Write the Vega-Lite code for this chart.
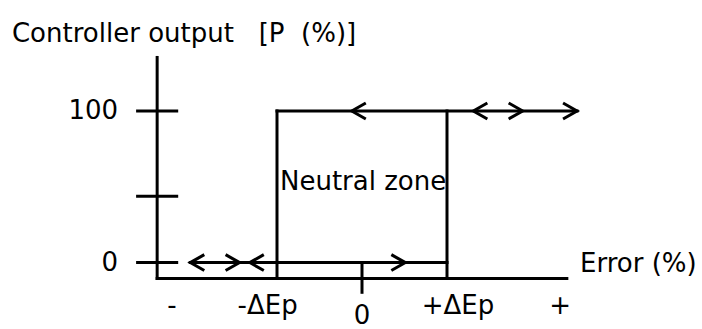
{
  "$schema": "https://vega.github.io/schema/vega-lite/v6.json",
  "width": 702,
  "height": 329,
  "autosize": {"type": "fit", "contains": "padding"},
  "padding": 0,
  "background": "white",
  "config": {"view": {"stroke": null}},
  "datasets": {
    "segments": [
      {"part": "y axis", "x": -2.41, "y": -10.5, "x2": -2.41, "y2": 135.3},
      {"part": "x axis", "x": -2.41, "y": -10.5, "x2": 2.41, "y2": -10.5},
      {"part": "tick 100", "x": -2.64, "y": 100, "x2": -2.18, "y2": 100},
      {"part": "tick mid", "x": -2.64, "y": 43.8, "x2": -2.18, "y2": 43.8},
      {"part": "tick 0", "x": -2.64, "y": 0, "x2": -2.18, "y2": 0},
      {"part": "zone left", "x": -1, "y": -10.5, "x2": -1, "y2": 100},
      {"part": "zone right", "x": 1, "y": -10.5, "x2": 1, "y2": 100},
      {"part": "output 100", "x": -1, "y": 100, "x2": 2.53, "y2": 100},
      {"part": "output 0", "x": -2.02, "y": 0, "x2": 1, "y2": 0},
      {"part": "error 0 tick", "x": 0, "y": 0, "x2": 0, "y2": -19.6}
    ],
    "arrows": [
      {"x": -0.12, "y": 100, "dir": "left"},
      {"x": 1.31, "y": 100, "dir": "left"},
      {"x": 1.89, "y": 100, "dir": "right"},
      {"x": 2.53, "y": 100, "dir": "right"},
      {"x": -2.02, "y": 0, "dir": "left"},
      {"x": -1.44, "y": 0, "dir": "right"},
      {"x": -1.32, "y": 0, "dir": "left"},
      {"x": 0.51, "y": 0, "dir": "right"}
    ],
    "texts": [
      {"role": "free", "text": "Controller output\u00a0\u00a0 [P\u00a0 (%)]", "x": -4.118, "y": 145.8},
      {"role": "free", "text": "Neutral zone", "x": -0.965, "y": 47.7},
      {"role": "free", "text": "Error (%)", "x": 2.565, "y": -6.5},
      {"role": "ylabel", "text": "100", "x": -2.87, "y": 100},
      {"role": "ylabel", "text": "0", "x": -2.87, "y": 0},
      {"role": "xlabel", "text": "-", "x": -2.235, "y": -34},
      {"role": "xlabel", "text": "-ΔEp", "x": -1.11, "y": -34},
      {"role": "xlabel", "text": "0", "x": 0, "y": -40.5},
      {"role": "xlabel", "text": "+ΔEp", "x": 1.13, "y": -34},
      {"role": "xlabel", "text": "+", "x": 2.33, "y": -34}
    ]
  },
  "encoding": {
    "x": {"field": "x", "type": "quantitative", "scale": {"domain": [-4.2588, 4.0], "nice": false, "zero": false}, "axis": null},
    "y": {"field": "y", "type": "quantitative", "scale": {"domain": [-41.83, 173.2], "nice": false, "zero": false}, "axis": null}
  },
  "layer": [
    {
      "data": {"name": "segments"},
      "mark": {"type": "rule", "stroke": "black", "strokeWidth": 3, "strokeCap": "square"},
      "encoding": {
        "x2": {"field": "x2"},
        "y2": {"field": "y2"}
      }
    },
    {
      "data": {"name": "arrows"},
      "mark": {"type": "point", "filled": false, "stroke": "black", "strokeWidth": 3, "size": 784, "opacity": 1},
      "encoding": {
        "shape": {
          "field": "dir",
          "type": "nominal",
          "scale": {"domain": ["left", "right"], "range": ["M1,-0.57L0,0L1,0.57", "M-1,-0.57L0,0L-1,0.57"]},
          "legend": null
        }
      }
    },
    {
      "data": {"name": "texts"},
      "transform": [{"filter": "datum.role === 'free'"}],
      "mark": {"type": "text", "align": "left", "baseline": "alphabetic", "font": "DejaVu Sans", "fontSize": 26, "color": "black"},
      "encoding": {"text": {"field": "text"}}
    },
    {
      "data": {"name": "texts"},
      "transform": [{"filter": "datum.role === 'ylabel'"}],
      "mark": {"type": "text", "align": "right", "baseline": "middle", "font": "DejaVu Sans", "fontSize": 26, "color": "black"},
      "encoding": {"text": {"field": "text"}}
    },
    {
      "data": {"name": "texts"},
      "transform": [{"filter": "datum.role === 'xlabel'"}],
      "mark": {"type": "text", "align": "center", "baseline": "alphabetic", "font": "DejaVu Sans", "fontSize": 26, "color": "black"},
      "encoding": {"text": {"field": "text"}}
    }
  ]
}
